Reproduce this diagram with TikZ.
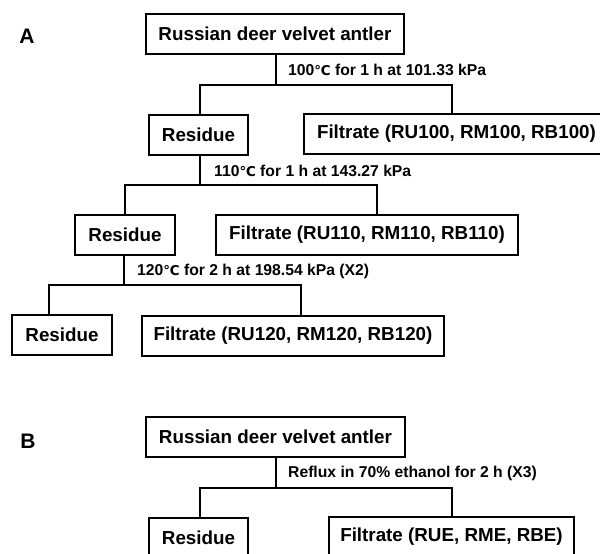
\documentclass[tikz,border=0pt]{standalone}
\usepackage{fontspec}
\setmainfont{Liberation Sans}
\newfontfamily\boxfont{Liberation Sans Bold}
\newfontfamily\labfont{Liberation Sans Bold}
\newfontfamily\panfont{Liberation Sans Bold}
\newfontfamily\degfont{DejaVu Sans Bold}
\newcommand{\degcel}{{\degfont\fontsize{13.5}{15}\selectfont ℃}}
\begin{document}
\begin{tikzpicture}[x=1pt,y=-1pt,
  boxnode/.style={draw, line width=1.8pt, inner sep=0pt, minimum height=40pt, anchor=center,
    font=\boxfont\fontsize{18.8}{22}\selectfont},
  cond/.style={anchor=west, inner sep=0pt, font=\labfont\fontsize{15.7}{17}\selectfont},
  panel/.style={inner sep=0pt, font=\panfont\fontsize{21}{23}\selectfont},
  conn/.style={line width=1.8pt}]
\useasboundingbox (0,0) rectangle (600,554);
\clip (0,0) rectangle (600,554);
\fill[white] (0,0) rectangle (600,554);
% panel A
\node[panel] (pA) at (27,36) {A};
\node[boxnode, minimum width=258pt] (topA) at (275,34) {Russian deer velvet antler};
\node[boxnode, minimum width=99pt] (res1) at (198.5,135) {Residue};
\node[boxnode, minimum width=305pt] (fil1) at (456.5,134) {Filtrate (RU100, RM100, RB100)};
\node[boxnode, minimum width=100pt] (res2) at (125,235) {Residue};
\node[boxnode, minimum width=302pt] (fil2) at (367,235) {Filtrate (RU110, RM110, RB110)};
\node[boxnode, minimum width=100pt] (res3) at (62,335) {Residue};
\node[boxnode, minimum width=302pt] (fil3) at (293,336) {Filtrate (RU120, RM120, RB120)};
% level 1
\coordinate (jA) at (276,85);
\coordinate (jA1) at (200,85);
\coordinate (jA2) at (452,85);
\draw[conn] (topA.south -| jA) -- (jA);
\draw[conn] (jA1 |- res1.north) -- (jA1) -- (jA2) -- (jA2 |- fil1.north);
\node[cond] (c1) at (288,70) {100\degcel{} for 1 h at 101.33 kPa};
% level 2
\coordinate (jB) at (200,185);
\coordinate (jB1) at (125,185);
\coordinate (jB2) at (377,185);
\draw[conn] (res1.south -| jB) -- (jB);
\draw[conn] (jB1 |- res2.north) -- (jB1) -- (jB2) -- (jB2 |- fil2.north);
\node[cond] (c2) at (214,171) {110\degcel{} for 1 h at 143.27 kPa};
% level 3
\coordinate (jC) at (124,285);
\coordinate (jC1) at (49,285);
\coordinate (jC2) at (301,285);
\draw[conn] (res2.south -| jC) -- (jC);
\draw[conn] (jC1 |- res3.north) -- (jC1) -- (jC2) -- (jC2 |- fil3.north);
\node[cond] (c3) at (137,271) {120\degcel{} for 2 h at 198.54 kPa (X2)};
% panel B
\node[panel] (pB) at (28,441) {B};
\node[boxnode, minimum width=259pt] (topB) at (275.5,437) {Russian deer velvet antler};
\node[boxnode, minimum width=99pt] (resB) at (198.5,538) {Residue};
\node[boxnode, minimum width=245pt] (filB) at (451.5,537) {Filtrate (RUE, RME, RBE)};
\coordinate (jD) at (276,488);
\coordinate (jD1) at (200,488);
\coordinate (jD2) at (452,488);
\draw[conn] (topB.south -| jD) -- (jD);
\draw[conn] (jD1 |- resB.north) -- (jD1) -- (jD2) -- (jD2 |- filB.north);
\node[cond] (cB) at (288,473) {Reflux in 70\% ethanol for 2 h~(X3)};
\end{tikzpicture}
\end{document}
